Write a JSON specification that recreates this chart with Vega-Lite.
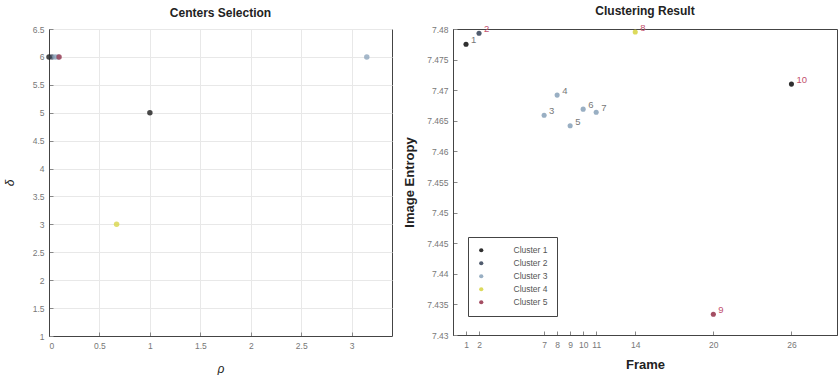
{
  "$schema": "https://vega.github.io/schema/vega-lite/v6.json",
  "background": "white",
  "padding": {"left": 2, "top": 4, "right": 0, "bottom": 0},
  "config": {
    "font": "Liberation Sans",
    "view": {"stroke": "#444", "strokeWidth": 1},
    "axis": {
      "labelFontSize": 8.5, "labelColor": "#777", "tickColor": "#888", "domainColor": "#444",
      "titleFontSize": 13, "titleFontWeight": "bold", "titleColor": "#222",
      "gridColor": "#e8e8e8", "labelPadding": 9, "tickSize": -4, "labelOverlap": false
    },
    "title": {"fontSize": 12, "fontWeight": "bold", "color": "#222", "offset": 5}
  },
  "datasets": {
    "decision": [
      {"rho": 0.0, "delta": 6, "cluster": "Cluster 1"},
      {"rho": 0.03, "delta": 6, "cluster": "Cluster 2"},
      {"rho": 0.06, "delta": 6, "cluster": "Cluster 3"},
      {"rho": 0.09, "delta": 6, "cluster": "Cluster 3"},
      {"rho": 0.1, "delta": 6, "cluster": "Cluster 5"},
      {"rho": 1.0, "delta": 5, "cluster": "Cluster 1"},
      {"rho": 0.67, "delta": 3, "cluster": "Cluster 4"},
      {"rho": 3.15, "delta": 6, "cluster": "Cluster 3"}
    ],
    "result": [
      {"frame": 1, "entropy": 7.4775, "cluster": "Cluster 1", "label": "1", "kind": "other"},
      {"frame": 2, "entropy": 7.4793, "cluster": "Cluster 2", "label": "2", "kind": "center"},
      {"frame": 7, "entropy": 7.4659, "cluster": "Cluster 3", "label": "3", "kind": "other"},
      {"frame": 8, "entropy": 7.4692, "cluster": "Cluster 3", "label": "4", "kind": "other"},
      {"frame": 9, "entropy": 7.4642, "cluster": "Cluster 3", "label": "5", "kind": "other"},
      {"frame": 10, "entropy": 7.4669, "cluster": "Cluster 3", "label": "6", "kind": "other"},
      {"frame": 11, "entropy": 7.4664, "cluster": "Cluster 3", "label": "7", "kind": "other"},
      {"frame": 14, "entropy": 7.4795, "cluster": "Cluster 4", "label": "8", "kind": "center"},
      {"frame": 20, "entropy": 7.4334, "cluster": "Cluster 5", "label": "9", "kind": "center"},
      {"frame": 26, "entropy": 7.4710, "cluster": "Cluster 1", "label": "10", "kind": "center"}
    ]
  },
  "resolve": {"scale": {"color": "independent"}, "legend": {"color": "independent"}},
  "spacing": 10,
  "hconcat": [
    {
      "title": "Centers Selection",
      "width": 343,
      "height": 307,
      "data": {"name": "decision"},
      "mark": {"type": "point", "filled": true, "size": 30, "opacity": 0.8},
      "encoding": {
        "x": {
          "field": "rho", "type": "quantitative",
          "scale": {"domain": [0, 3.4], "nice": false, "zero": false},
          "axis": {"values": [0, 0.5, 1, 1.5, 2, 2.5, 3], "format": "~g", "grid": true, "labelOverlap": false, "title": "ρ", "titleFontStyle": "italic", "titleFontWeight": "normal", "titleFontSize": 12, "titlePadding": 14}
        },
        "y": {
          "field": "delta", "type": "quantitative",
          "scale": {"domain": [1, 6.5], "nice": false, "zero": false},
          "axis": {"values": [1, 1.5, 2, 2.5, 3, 3.5, 4, 4.5, 5, 5.5, 6, 6.5], "format": "~g", "grid": true, "labelOverlap": false, "title": "δ", "titleFontStyle": "italic", "titleFontWeight": "normal", "titleFontSize": 12, "titlePadding": 16}
        },
        "color": {
          "field": "cluster", "type": "nominal",
          "scale": {"domain": ["Cluster 1", "Cluster 2", "Cluster 3", "Cluster 4", "Cluster 5"], "range": ["#1a1a1a", "#3e4a5e", "#8ea6bd", "#d8d64a", "#9a3b52"]},
          "legend": null
        }
      }
    },
    {
      "title": "Clustering Result",
      "width": 384,
      "height": 306,
      "data": {"name": "result"},
      "resolve": {"scale": {"color": "independent"}},
      "encoding": {
        "x": {
          "field": "frame", "type": "quantitative",
          "scale": {"domain": [0, 29.5], "nice": false, "zero": false},
          "axis": {"values": [1, 2, 7, 8, 9, 10, 11, 14, 20, 26], "grid": false, "labelOverlap": false, "title": "Frame", "titlePadding": 10}
        },
        "y": {
          "field": "entropy", "type": "quantitative",
          "scale": {"domain": [7.43, 7.48], "nice": false, "zero": false},
          "axis": {"values": [7.43, 7.435, 7.44, 7.445, 7.45, 7.455, 7.46, 7.465, 7.47, 7.475, 7.48], "format": "~g", "grid": false, "labelOverlap": false, "title": "Image Entropy", "titlePadding": 10}
        }
      },
      "layer": [
        {
          "mark": {"type": "point", "filled": true, "size": 26, "opacity": 0.9},
          "encoding": {
            "color": {
              "field": "cluster", "type": "nominal",
              "scale": {"domain": ["Cluster 1", "Cluster 2", "Cluster 3", "Cluster 4", "Cluster 5"], "range": ["#1a1a1a", "#3e4a5e", "#8ea6bd", "#d8d64a", "#9a3b52"]},
              "legend": {
                "title": null, "orient": "none", "legendX": 15, "legendY": 208,
                "strokeColor": "#444", "fillColor": "white", "padding": 9,
                "labelFontSize": 8.5, "labelColor": "#555", "labelOffset": 28,
                "symbolSize": 18, "symbolType": "circle", "rowPadding": 4
              }
            }
          }
        },
        {
          "mark": {"type": "text", "align": "left", "baseline": "middle", "dx": 5, "dy": -4, "fontSize": 9.5},
          "encoding": {
            "text": {"field": "label"},
            "color": {
              "field": "kind", "type": "nominal",
              "scale": {"domain": ["center", "other"], "range": ["#c2506c", "#777777"]},
              "legend": null
            }
          }
        }
      ]
    }
  ]
}
